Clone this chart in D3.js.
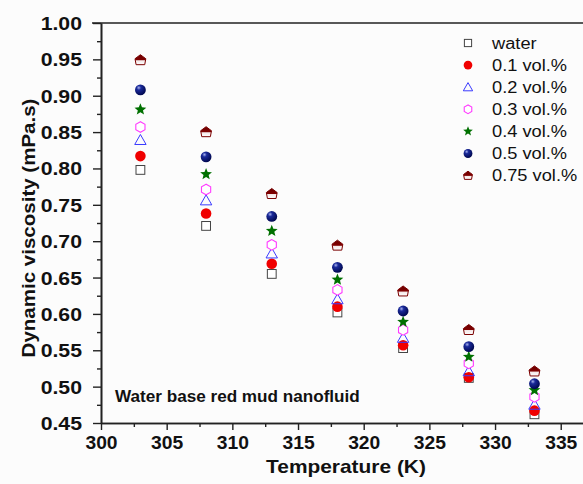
<!DOCTYPE html>
<html>
<head>
<meta charset="utf-8">
<script src="https://cdn.jsdelivr.net/npm/d3@7"></script>
<style>
  html, body { margin: 0; padding: 0; background: #fcfcfc; }
  svg { display: block; }
  text { font-family: "Liberation Sans", Arial, sans-serif; fill: #111; }
</style>
</head>
<body>
<svg id="chart" width="583" height="484"></svg>
<script>
// Temperatures (K) where viscosity was measured
const temperatures = [303, 308, 313, 318, 323, 328, 333];

// Dynamic viscosity (mPa.s) per concentration
const water   = [0.798, 0.721, 0.655, 0.602, 0.553, 0.512, 0.462];
const vol01   = [0.817, 0.738, 0.669, 0.610, 0.557, 0.513, 0.467];
const vol02   = [0.839, 0.756, 0.683, 0.620, 0.567, 0.521, 0.475];
const vol03   = [0.857, 0.771, 0.695, 0.633, 0.578, 0.532, 0.486];
const vol04   = [0.881, 0.792, 0.714, 0.647, 0.589, 0.541, 0.495];
const vol05   = [0.908, 0.816, 0.734, 0.664, 0.604, 0.555, 0.504];
const vol075  = [0.949, 0.850, 0.765, 0.694, 0.631, 0.578, 0.521];

const seriesNames = ["water", "0.1 vol.%", "0.2 vol.%", "0.3 vol.%", "0.4 vol.%", "0.5 vol.%", "0.75 vol.%"];
const seriesValues = [water, vol01, vol02, vol03, vol04, vol05, vol075];

const xTicks = [300, 305, 310, 315, 320, 325, 330, 335];
const yTicks = [0.45, 0.50, 0.55, 0.60, 0.65, 0.70, 0.75, 0.80, 0.85, 0.90, 0.95, 1.00];

const svg = d3.select("#chart");
const W = 583, H = 484;
const m = { left: 101, top: 23, bottom: 423 };
const plotRight = 587;

const x = d3.scaleLinear().domain([300, 337]).range([m.left, plotRight]);
const y = d3.scaleLinear().domain([0.45, 1.00]).range([m.bottom, m.top]);

// widen a text element horizontally by factor sx (font is set narrower than the print face)
function stretch(sel, sx) {
  sel.each(function () {
    const len = this.getComputedTextLength();
    d3.select(this).attr("textLength", len * sx).attr("lengthAdjust", "spacingAndGlyphs");
  });
}

// gradients for shaded markers
const defs = svg.append("defs");
const ball = defs.append("radialGradient").attr("id", "ball")
  .attr("cx", "35%").attr("cy", "30%").attr("r", "70%");
ball.append("stop").attr("offset", "0%").attr("stop-color", "#a8b2ee");
ball.append("stop").attr("offset", "30%").attr("stop-color", "#1a2a9a");
ball.append("stop").attr("offset", "100%").attr("stop-color", "#000850");

const house = defs.append("linearGradient").attr("id", "house")
  .attr("x1", "0").attr("y1", "0").attr("x2", "0").attr("y2", "1");
house.append("stop").attr("offset", "0%").attr("stop-color", "#6a0000");
house.append("stop").attr("offset", "52%").attr("stop-color", "#800000");
house.append("stop").attr("offset", "60%").attr("stop-color", "#f4e8e8");
house.append("stop").attr("offset", "100%").attr("stop-color", "#ffffff");

// Marker painters: draw one symbol of a series at the group origin with scale s
function hexPath(r) {
  const pts = d3.range(6).map(i => {
    const a = Math.PI / 2 + i * Math.PI / 3;
    return [r * Math.cos(a), -r * Math.sin(a)];
  });
  return "M" + pts.map(p => p.join(",")).join("L") + "Z";
}
function starPath(R, r) {
  const pts = d3.range(10).map(i => {
    const a = -Math.PI / 2 + i * Math.PI / 5;
    const rr = i % 2 === 0 ? R : r;
    return [rr * Math.cos(a), rr * Math.sin(a)];
  });
  return "M" + pts.map(p => p.join(",")).join("L") + "Z";
}
function housePath(r) {
  // pentagon with a pointed roof
  return `M0,${-r} L${r},${-r * 0.25} L${r * 0.8},${r * 0.85} L${-r * 0.8},${r * 0.85} L${-r},${-r * 0.25} Z`;
}

const painters = [
  (g, s) => g.append("rect").attr("x", -4.4 * s).attr("y", -4.4 * s)
      .attr("width", 8.8 * s).attr("height", 8.8 * s)
      .attr("fill", "#fff").attr("stroke", "#444").attr("stroke-width", 1),
  (g, s) => g.append("circle").attr("r", 5.3 * s).attr("fill", "#f00000"),
  (g, s) => g.append("path")
      .attr("d", `M0,${-5.6 * s} L${5.7 * s},${4.4 * s} L${-5.7 * s},${4.4 * s} Z`)
      .attr("fill", "none").attr("stroke", "#3a3aff").attr("stroke-width", 1),
  (g, s) => g.append("path").attr("d", hexPath(5.3 * s))
      .attr("fill", "#fff").attr("stroke", "#ff3cff").attr("stroke-width", 1.1),
  (g, s) => g.append("path").attr("d", starPath(6.2 * s, 2.7 * s)).attr("fill", "#007000"),
  (g, s) => g.append("circle").attr("r", 5.4 * s).attr("fill", "url(#ball)"),
  (g, s) => g.append("path").attr("d", housePath(5.4 * s))
      .attr("fill", "url(#house)").attr("stroke", "#7a0000").attr("stroke-width", 1)
];

// Axes
const xAxis = svg.append("g").attr("transform", `translate(0,${m.bottom})`)
  .call(d3.axisBottom(x).tickValues(xTicks).tickFormat(d3.format("d")).tickSize(7).tickSizeOuter(0));
const xMinor = svg.append("g").attr("transform", `translate(0,${m.bottom})`)
  .call(d3.axisBottom(x).tickValues(d3.range(302.5, 337, 5)).tickFormat("").tickSize(4).tickSizeOuter(0));

const yAxis = svg.append("g").attr("transform", `translate(${m.left},0)`)
  .call(d3.axisLeft(y).tickValues(yTicks).tickFormat(d3.format(".2f")).tickSize(8).tickSizeOuter(0));
const yMinor = svg.append("g").attr("transform", `translate(${m.left},0)`)
  .call(d3.axisLeft(y).tickValues(d3.range(0.475, 1.0, 0.05)).tickFormat("").tickSize(4).tickSizeOuter(0));

[xAxis, xMinor, yAxis, yMinor].forEach(g => {
  g.attr("font-family", null).attr("font-size", null);
  g.selectAll(".domain").attr("stroke", "#222").attr("stroke-width", 1.6);
  g.selectAll(".tick line").attr("stroke", "#222").attr("stroke-width", 1.4);
});
xAxis.selectAll(".tick text").attr("dy", 0).attr("y", 26)
  .style("font-size", "18px").style("font-weight", "bold");
stretch(xAxis.selectAll(".tick text"), 1.07);
yAxis.selectAll(".tick text").attr("x", -19).attr("dy", "0.36em")
  .style("font-size", "18px").style("font-weight", "bold");
stretch(yAxis.selectAll(".tick text"), 1.18);

// top frame line
svg.append("line").attr("x1", m.left - 9).attr("x2", W).attr("y1", m.top).attr("y2", m.top)
  .attr("stroke", "#222").attr("stroke-width", 1.6);

// Data markers
seriesValues.forEach((vals, si) => {
  vals.forEach((v, i) => {
    const g = svg.append("g").attr("transform", `translate(${x(temperatures[i])},${y(v)})`);
    painters[si](g, 1);
  });
});

// Legend
const legend = svg.append("g");
seriesNames.forEach((name, i) => {
  const yy = 43 + i * 22.1;
  const g = legend.append("g").attr("transform", `translate(468,${yy})`);
  painters[i](g, 0.82);
  legend.append("text").attr("x", 492).attr("y", yy).attr("dy", "0.36em")
    .style("font-size", "16px").text(name);
});
stretch(legend.selectAll("text"), 1.14);

// Axis titles
const xTitle = svg.append("text").attr("x", (m.left + plotRight) / 2 + 2).attr("y", 473)
  .attr("text-anchor", "middle").style("font-size", "19px").style("font-weight", "bold")
  .text("Temperature (K)");
stretch(xTitle, 1.1);
const yTitle = svg.append("text").attr("transform", "translate(35,228) rotate(-90)")
  .attr("text-anchor", "middle").style("font-size", "19px").style("font-weight", "bold")
  .text("Dynamic viscosity (mPa.s)");
stretch(yTitle, 1.08);

// Annotation
const note = svg.append("text").attr("x", 115).attr("y", 402)
  .style("font-size", "16px").style("font-weight", "bold")
  .text("Water base red mud nanofluid");
stretch(note, 1.07);
</script>
</body>
</html>
